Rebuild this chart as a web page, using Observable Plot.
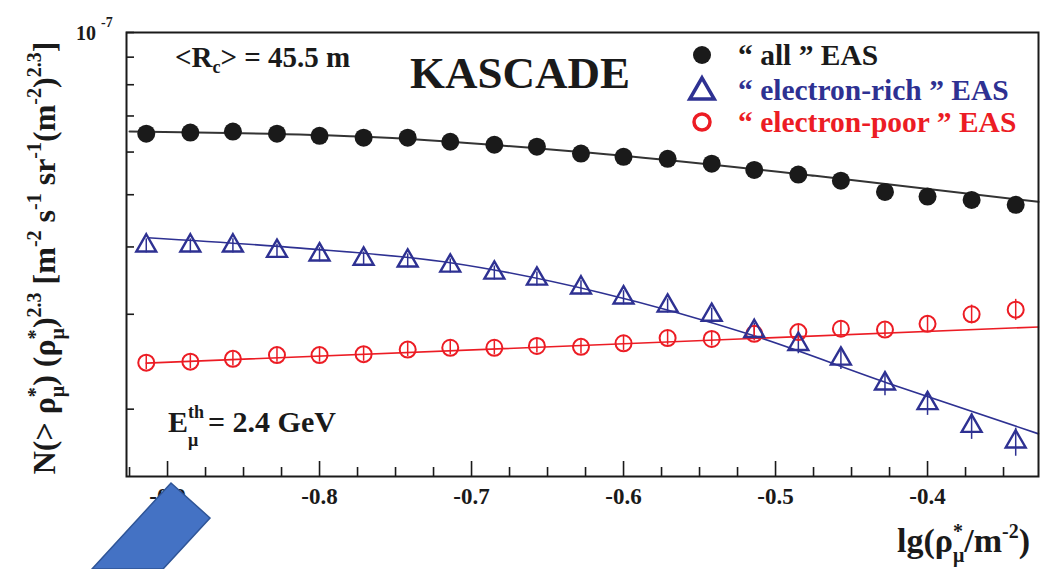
<!DOCTYPE html>
<html><head><meta charset="utf-8">
<script src="https://cdn.jsdelivr.net/npm/d3@7"></script>
<script src="https://cdn.jsdelivr.net/npm/@observablehq/plot@0.6"></script>
<style>body{margin:0;background:#fff}</style>
</head><body><div id="chart"></div>
<script>
// ---- data ----
const lgRho = [-0.914,-0.885,-0.857,-0.828,-0.800,-0.771,-0.742,-0.714,-0.685,-0.657,-0.628,-0.600,-0.571,-0.542,-0.514,-0.485,-0.457,-0.428,-0.400,-0.371,-0.342];
const allEAS  = [6.49e-8,6.52e-8,6.55e-8,6.49e-8,6.43e-8,6.38e-8,6.38e-8,6.27e-8,6.19e-8,6.14e-8,5.96e-8,5.88e-8,5.83e-8,5.71e-8,5.56e-8,5.45e-8,5.31e-8,5.06e-8,4.96e-8,4.89e-8,4.79e-8];
const richEAS = [4.02e-8,4.02e-8,4.02e-8,3.93e-8,3.87e-8,3.80e-8,3.77e-8,3.69e-8,3.58e-8,3.49e-8,3.36e-8,3.22e-8,3.11e-8,2.99e-8,2.79e-8,2.64e-8,2.48e-8,2.23e-8,2.05e-8,1.86e-8,1.74e-8];
const poorEAS = [2.44e-8,2.45e-8,2.48e-8,2.52e-8,2.52e-8,2.53e-8,2.58e-8,2.60e-8,2.60e-8,2.62e-8,2.61e-8,2.65e-8,2.71e-8,2.70e-8,2.76e-8,2.78e-8,2.82e-8,2.81e-8,2.88e-8,3.00e-8,3.06e-8];
const richErr = [0.03,0.03,0.03,0.03,0.03,0.03,0.03,0.03,0.03,0.03,0.03,0.03,0.03,0.03,0.035,0.04,0.045,0.05,0.05,0.055,0.06];
const poorErr = [0.03,0.03,0.03,0.03,0.03,0.03,0.03,0.03,0.03,0.03,0.03,0.03,0.03,0.03,0.03,0.03,0.03,0.03,0.035,0.04,0.045];
// fitted curves
const fitAllX  = [-0.925,-0.773,-0.622,-0.474,-0.327];
const fitAllY  = [6.55e-8,6.41e-8,5.98e-8,5.42e-8,4.85e-8];
const fitRichX = [-0.913,-0.8125,-0.714,-0.615,-0.513,-0.427,-0.327];
const fitRichY = [4.16e-8,3.98e-8,3.74e-8,3.29e-8,2.73e-8,2.24e-8,1.80e-8];
const fitPoorX = [-0.914,-0.327];
const fitPoorY = [2.435e-8,2.842e-8];
// ticks
const xMajor = [-0.9,-0.8,-0.7,-0.6,-0.5,-0.4];
const xMinor = [-0.925,-0.875,-0.85,-0.825,-0.775,-0.75,-0.725,-0.675,-0.65,-0.625,-0.575,-0.55,-0.525,-0.475,-0.45,-0.425,-0.375,-0.35];
const yTicks = [2e-8,3e-8,4e-8,5e-8,6e-8,7e-8,8e-8,9e-8,1e-7];

const BLACK = "#1a1a1a", BLUE = "#2e3192", RED = "#ec1c24";
const SERIF = "'Liberation Serif', 'Times New Roman', serif";
const rows = (xs, ys, es) => xs.map((x, i) => ({x, y: ys[i], e: es ? es[i] : 0}));
const all = rows(lgRho, allEAS), rich = rows(lgRho, richEAS, richErr), poor = rows(lgRho, poorEAS, poorErr);
const fA = rows(fitAllX, fitAllY), fR = rows(fitRichX, fitRichY), fP = rows(fitPoorX, fitPoorY);

const W = 1064, H = 569, ML = 126, MR = 26, MT = 32, MB = 93;
const FW = W - ML - MR, FH = H - MT - MB;

const svg = Plot.plot({
  width: W, height: H, marginLeft: ML, marginRight: MR, marginTop: MT, marginBottom: MB,
  x: {domain: [-0.927, -0.327]},
  y: {type: "log", domain: [1.5e-8, 1e-7], axis: null},
  style: {fontFamily: SERIF, fontWeight: "bold", fontSize: "22px", color: BLACK, background: "#fff"},
  marks: [
    Plot.ruleX(xMajor, {insetTop: FH - 15, stroke: BLACK, strokeWidth: 1.6}),
    Plot.ruleX(xMinor, {insetTop: FH - 9, stroke: BLACK, strokeWidth: 1.6}),
    Plot.ruleY(yTicks, {insetRight: FW - 8, stroke: BLACK, strokeWidth: 1.6}),
    Plot.axisX({ticks: xMajor, tickSize: 0, tickPadding: 11, tickFormat: d => d.toFixed(1), label: null, fontSize: 23, fontWeight: "bold", fontFamily: SERIF}),
    Plot.line(fA, {x: "x", y: "y", stroke: "#333", strokeWidth: 2, curve: "monotone-x"}),
    Plot.line(fR, {x: "x", y: "y", stroke: BLUE, strokeWidth: 1.6, curve: "monotone-x"}),
    Plot.line(fP, {x: "x", y: "y", stroke: RED, strokeWidth: 1.6}),
    Plot.ruleX(rich, {x: "x", y1: d => d.y * (1 - d.e), y2: d => d.y * (1 + d.e), stroke: BLUE, strokeWidth: 1.5}),
    Plot.ruleX(poor, {x: "x", y1: d => d.y * (1 - d.e), y2: d => d.y * (1 + d.e), stroke: RED, strokeWidth: 1.5}),
    Plot.dot(poor, {x: "x", y: "y", r: 8, stroke: RED, strokeWidth: 2, fill: "none"}),
    Plot.dot(rich, {x: "x", y: "y", r: 7.4, symbol: "triangle", stroke: BLUE, strokeWidth: 2.4, fill: "none"}),
    Plot.dot(all, {x: "x", y: "y", r: 9, fill: BLACK, stroke: "none"}),
    Plot.frame({stroke: BLACK, strokeWidth: 2})
  ]
});
document.getElementById("chart").append(svg);

const s = d3.select(svg);
const g = s.append("g").attr("font-family", SERIF).attr("font-weight", "bold").attr("fill", BLACK).attr("text-anchor", "start");

// rich text helper: segments {t, off (baseline offset, negative = up), fs, dx}
function rich_(el, segs, base) {
  let cur = 0;
  for (const sg of segs) {
    const off = sg.off || 0;
    const ts = el.append("tspan").text(sg.t).attr("dy", off - cur).attr("font-size", sg.fs || base);
    if (sg.dx) ts.attr("dx", sg.dx);
    cur = off;
  }
  return el;
}

// 10^-7 top-left
rich_(g.append("text").attr("x", 76).attr("y", 40), [{t: "10"}, {t: "-7", off: -13, fs: 14, dx: 5}], 20);

// <Rc> = 45.5 m
rich_(g.append("text").attr("x", 175).attr("y", 67), [{t: "<R"}, {t: "c", off: 6, fs: 18}, {t: "> = 45.5 m", off: 0}], 29);

// KASCADE
g.append("text").attr("x", 410).attr("y", 88).attr("font-size", 45).text("KASCADE");

// Legend
const lg = g.append("g");
lg.append("circle").attr("cx", 702).attr("cy", 55).attr("r", 9).attr("fill", BLACK);
lg.append("path").attr("d", d3.symbol(d3.symbolTriangle, 260)()).attr("transform", "translate(702,92)").attr("fill", "none").attr("stroke", BLUE).attr("stroke-width", 3.5);
lg.append("circle").attr("cx", 702).attr("cy", 122).attr("r", 8).attr("fill", "none").attr("stroke", RED).attr("stroke-width", 3.5);
lg.append("text").attr("x", 738).attr("y", 65).attr("font-size", 29.5).text("\u201C all \u201D EAS");
lg.append("text").attr("x", 738).attr("y", 100).attr("font-size", 29.5).attr("fill", BLUE).text("\u201C electron-rich \u201D EAS");
lg.append("text").attr("x", 738).attr("y", 132).attr("font-size", 29.5).attr("fill", RED).text("\u201C electron-poor \u201D EAS");

// E_mu^th = 2.4 GeV
g.append("text").attr("x", 168).attr("y", 432).attr("font-size", 30).text("E");
g.append("text").attr("x", 188).attr("y", 418).attr("font-size", 18).text("th");
g.append("text").attr("x", 188).attr("y", 446).attr("font-size", 18).text("\u03BC");
g.append("text").attr("x", 208).attr("y", 432).attr("font-size", 30).text("= 2.4 GeV");

// x label
rich_(g.append("text").attr("x", 897).attr("y", 552), [
  {t: "lg(\u03C1"}, {t: "*", off: -14, fs: 20}, {t: "\u03BC", off: 10, fs: 20, dx: -10},
  {t: "/m", off: 0}, {t: "-2", off: -14, fs: 20}, {t: ")", off: 0}], 34);

// y label (rotated)
const yl = g.append("text").attr("transform", "translate(55,258) rotate(-90)").attr("text-anchor", "middle");
rich_(yl, [
  {t: "N(> \u03C1"}, {t: "*", off: -13, fs: 20}, {t: "\u03BC", off: 9, fs: 20, dx: -10},
  {t: ") (\u03C1", off: 0}, {t: "*", off: -13, fs: 20}, {t: "\u03BC", off: 9, fs: 20, dx: -10},
  {t: ")", off: 0}, {t: "2.3", off: -14, fs: 20},
  {t: " [m", off: 0}, {t: "-2", off: -14, fs: 20},
  {t: " s", off: 0}, {t: "-1", off: -14, fs: 20},
  {t: " sr", off: 0}, {t: "-1", off: -14, fs: 20},
  {t: "(m", off: 0}, {t: "-2", off: -14, fs: 20},
  {t: ")", off: 0}, {t: "2.3", off: -14, fs: 20},
  {t: "]", off: 0}], 32);

// blue arrow shape overlay (annotation)
s.append("polygon").attr("points", "171,483 210,518 163,569 92,569").attr("fill", "#4472C4").attr("stroke", "#2F5597").attr("stroke-width", 1.5);
</script>
</body></html>
